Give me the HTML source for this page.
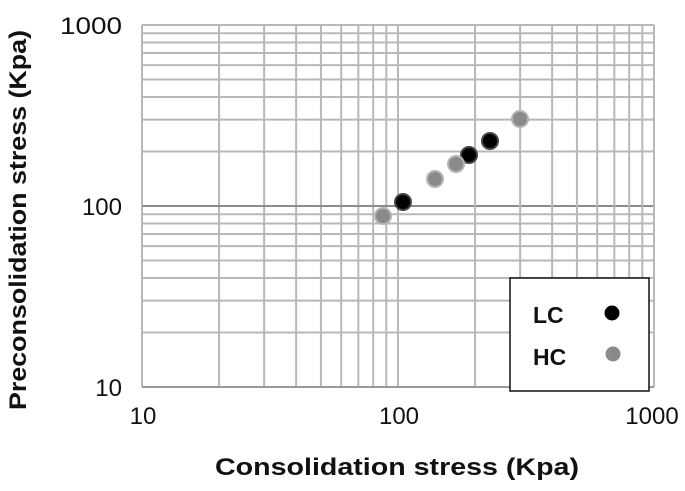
<!DOCTYPE html>
<html><head><style>body{margin:0;background:#fff}</style></head><body>
<svg width="685" height="486" viewBox="0 0 685 486" xmlns="http://www.w3.org/2000/svg" font-family="Liberation Sans, sans-serif">
<rect width="685" height="486" fill="#fff"/>
<g id="grid" stroke="#b8b8b8" stroke-width="2"></g>
<g font-size="24" fill="#111" text-anchor="end">
<text x="122" y="34" textLength="62" lengthAdjust="spacingAndGlyphs">1000</text>
<text x="122" y="215">100</text>
<text x="122" y="396">10</text>
</g>
<g font-size="24" fill="#111" text-anchor="middle">
<text x="143" y="424">10</text>
<text x="399" y="424">100</text>
<text x="652" y="424">1000</text>
</g>
<text x="397" y="475" font-size="24" font-weight="bold" text-anchor="middle" fill="#111" textLength="364" lengthAdjust="spacingAndGlyphs">Consolidation stress (Kpa)</text>
<text transform="translate(26,220) rotate(-90)" font-size="24" font-weight="bold" text-anchor="middle" fill="#111" textLength="380" lengthAdjust="spacingAndGlyphs">Preconsolidation stress (Kpa)</text>
<g>
<circle cx="383" cy="216" r="8" fill="#8a8a8a" stroke="#b5b5b5" stroke-width="2"/>
<circle cx="403" cy="202" r="8" fill="#000" stroke="#444" stroke-width="2"/>
<circle cx="435" cy="179" r="8" fill="#8a8a8a" stroke="#b5b5b5" stroke-width="2"/>
<circle cx="469" cy="155" r="8" fill="#000" stroke="#444" stroke-width="2"/>
<circle cx="456" cy="164" r="8" fill="#8a8a8a" stroke="#b5b5b5" stroke-width="2"/>
<circle cx="490" cy="141" r="8" fill="#000" stroke="#444" stroke-width="2"/>
<circle cx="520" cy="119" r="8" fill="#8a8a8a" stroke="#b5b5b5" stroke-width="2"/>
</g>
<rect x="510" y="278" width="139" height="113" fill="#fff" stroke="#111" stroke-width="1.5"/>
<text x="533" y="323" font-size="23" font-weight="bold" fill="#111">LC</text>
<text x="533" y="365" font-size="23" font-weight="bold" fill="#111">HC</text>
<circle cx="612" cy="313" r="7.5" fill="#000"/>
<circle cx="613" cy="354" r="7.5" fill="#8a8a8a"/>
</svg>
<script>
var g=document.getElementById('grid'),s='',L=142,R=654,T=25,B=387;
var dx=(R-L)/2,dy=(B-T)/2;
for(var d=0;d<2;d++)for(var k=1;k<=10;k++){
 var x=L+dx*(d+Math.log10(k)),y=B-dy*(d+Math.log10(k));
 var c=(d==1&&k==1)?' stroke="#8c8c8c"':'';
 s+='<line x1="'+x+'" y1="'+T+'" x2="'+x+'" y2="'+B+'"/>';
 s+='<line x1="'+L+'" y1="'+y+'" x2="'+R+'" y2="'+y+'"'+c+'/>';
}
s+='<line x1="'+L+'" y1="'+B+'" x2="'+R+'" y2="'+B+'" stroke="#999"/>';
g.innerHTML=s;
</script>
</body></html>
